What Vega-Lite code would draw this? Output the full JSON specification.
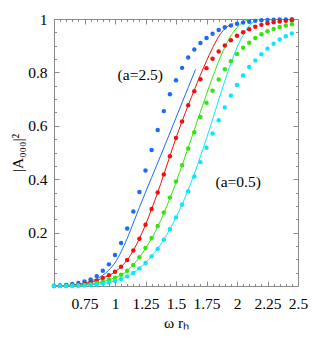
{
  "$schema": "https://vega.github.io/schema/vega-lite/v6.json",
  "autosize": "none",
  "width": 244,
  "height": 267,
  "padding": {"left": 54, "top": 19, "right": 14, "bottom": 57},
  "background": "white",
  "config": {
    "view": {"stroke": "#8a8a8a", "strokeWidth": 1},
    "axis": {
      "domain": false,
      "grid": false,
      "tickColor": "#8a8a8a",
      "tickWidth": 1,
      "labelFont": "'Liberation Serif', 'Times New Roman', serif",
      "labelFontSize": 15.5,
      "labelColor": "black",
      "titleFont": "'Liberation Serif', 'Times New Roman', serif",
      "titleFontSize": 15.5,
      "titleFontWeight": "normal",
      "titleColor": "black",
      "labelFlush": false,
      "labelOverlap": false
    },
    "text": {"font": "'Liberation Serif', 'Times New Roman', serif", "fontSize": 15.5}
  },
  "datasets": {
    "lines": [
      {"s": "a=2.5", "x": 0.5, "y": 0}, {"s": "a=2.5", "x": 0.55, "y": 0.001}, {"s": "a=2.5", "x": 0.6, "y": 0.002}, {"s": "a=2.5", "x": 0.65, "y": 0.004}, {"s": "a=2.5", "x": 0.7, "y": 0.007}, {"s": "a=2.5", "x": 0.75, "y": 0.011}, {"s": "a=2.5", "x": 0.8, "y": 0.018}, {"s": "a=2.5", "x": 0.85, "y": 0.027}, {"s": "a=2.5", "x": 0.9, "y": 0.04}, {"s": "a=2.5", "x": 0.95, "y": 0.06}, {"s": "a=2.5", "x": 1.0, "y": 0.087}, {"s": "a=2.5", "x": 1.05, "y": 0.128}, {"s": "a=2.5", "x": 1.1, "y": 0.178}, {"s": "a=2.5", "x": 1.15, "y": 0.236}, {"s": "a=2.5", "x": 1.2, "y": 0.294}, {"s": "a=2.5", "x": 1.25, "y": 0.351}, {"s": "a=2.5", "x": 1.3, "y": 0.406}, {"s": "a=2.5", "x": 1.35, "y": 0.461}, {"s": "a=2.5", "x": 1.4, "y": 0.517}, {"s": "a=2.5", "x": 1.45, "y": 0.573}, {"s": "a=2.5", "x": 1.5, "y": 0.63}, {"s": "a=2.5", "x": 1.55, "y": 0.687}, {"s": "a=2.5", "x": 1.6, "y": 0.743}, {"s": "a=2.5", "x": 1.66, "y": 0.811},
      {"s": "a=1.5", "x": 0.5, "y": 0}, {"s": "a=1.5", "x": 0.6, "y": 0.002}, {"s": "a=1.5", "x": 0.7, "y": 0.005}, {"s": "a=1.5", "x": 0.8, "y": 0.013}, {"s": "a=1.5", "x": 0.9, "y": 0.03}, {"s": "a=1.5", "x": 1.0, "y": 0.053}, {"s": "a=1.5", "x": 1.05, "y": 0.072}, {"s": "a=1.5", "x": 1.1, "y": 0.097}, {"s": "a=1.5", "x": 1.15, "y": 0.133}, {"s": "a=1.5", "x": 1.2, "y": 0.177}, {"s": "a=1.5", "x": 1.25, "y": 0.229}, {"s": "a=1.5", "x": 1.3, "y": 0.288}, {"s": "a=1.5", "x": 1.35, "y": 0.35}, {"s": "a=1.5", "x": 1.4, "y": 0.418}, {"s": "a=1.5", "x": 1.45, "y": 0.486}, {"s": "a=1.5", "x": 1.5, "y": 0.554}, {"s": "a=1.5", "x": 1.55, "y": 0.617}, {"s": "a=1.5", "x": 1.6, "y": 0.677}, {"s": "a=1.5", "x": 1.65, "y": 0.734}, {"s": "a=1.5", "x": 1.7, "y": 0.79}, {"s": "a=1.5", "x": 1.75, "y": 0.843}, {"s": "a=1.5", "x": 1.8, "y": 0.892}, {"s": "a=1.5", "x": 1.85, "y": 0.934}, {"s": "a=1.5", "x": 1.9, "y": 0.963}, {"s": "a=1.5", "x": 1.95, "y": 0.979}, {"s": "a=1.5", "x": 1.97, "y": 0.982},
      {"s": "a=1", "x": 0.5, "y": 0}, {"s": "a=1", "x": 0.6, "y": 0.001}, {"s": "a=1", "x": 0.7, "y": 0.003}, {"s": "a=1", "x": 0.8, "y": 0.007}, {"s": "a=1", "x": 0.9, "y": 0.016}, {"s": "a=1", "x": 1.0, "y": 0.031}, {"s": "a=1", "x": 1.1, "y": 0.057}, {"s": "a=1", "x": 1.15, "y": 0.079}, {"s": "a=1", "x": 1.2, "y": 0.107}, {"s": "a=1", "x": 1.25, "y": 0.14}, {"s": "a=1", "x": 1.3, "y": 0.178}, {"s": "a=1", "x": 1.35, "y": 0.222}, {"s": "a=1", "x": 1.4, "y": 0.272}, {"s": "a=1", "x": 1.45, "y": 0.328}, {"s": "a=1", "x": 1.5, "y": 0.388}, {"s": "a=1", "x": 1.55, "y": 0.452}, {"s": "a=1", "x": 1.6, "y": 0.518}, {"s": "a=1", "x": 1.65, "y": 0.585}, {"s": "a=1", "x": 1.7, "y": 0.652}, {"s": "a=1", "x": 1.75, "y": 0.718}, {"s": "a=1", "x": 1.8, "y": 0.782}, {"s": "a=1", "x": 1.85, "y": 0.842}, {"s": "a=1", "x": 1.9, "y": 0.894}, {"s": "a=1", "x": 1.95, "y": 0.937}, {"s": "a=1", "x": 2.0, "y": 0.968}, {"s": "a=1", "x": 2.05, "y": 0.988}, {"s": "a=1", "x": 2.1, "y": 0.998},
      {"s": "a=0.5", "x": 0.5, "y": 0}, {"s": "a=0.5", "x": 0.6, "y": 0}, {"s": "a=0.5", "x": 0.7, "y": 0.001}, {"s": "a=0.5", "x": 0.8, "y": 0.004}, {"s": "a=0.5", "x": 0.9, "y": 0.009}, {"s": "a=0.5", "x": 1.0, "y": 0.019}, {"s": "a=0.5", "x": 1.1, "y": 0.036}, {"s": "a=0.5", "x": 1.2, "y": 0.066}, {"s": "a=0.5", "x": 1.25, "y": 0.086}, {"s": "a=0.5", "x": 1.3, "y": 0.112}, {"s": "a=0.5", "x": 1.35, "y": 0.14}, {"s": "a=0.5", "x": 1.4, "y": 0.174}, {"s": "a=0.5", "x": 1.45, "y": 0.213}, {"s": "a=0.5", "x": 1.5, "y": 0.257}, {"s": "a=0.5", "x": 1.55, "y": 0.306}, {"s": "a=0.5", "x": 1.6, "y": 0.36}, {"s": "a=0.5", "x": 1.65, "y": 0.42}, {"s": "a=0.5", "x": 1.7, "y": 0.485}, {"s": "a=0.5", "x": 1.75, "y": 0.553}, {"s": "a=0.5", "x": 1.8, "y": 0.624}, {"s": "a=0.5", "x": 1.85, "y": 0.697}, {"s": "a=0.5", "x": 1.9, "y": 0.768}, {"s": "a=0.5", "x": 1.95, "y": 0.835}, {"s": "a=0.5", "x": 2.0, "y": 0.893}, {"s": "a=0.5", "x": 2.05, "y": 0.94}, {"s": "a=0.5", "x": 2.1, "y": 0.974}, {"s": "a=0.5", "x": 2.15, "y": 0.994}, {"s": "a=0.5", "x": 2.2, "y": 1.0}
    ],
    "dots": [
      {"s": "a=2.5", "x": 0.5, "y": 0.001}, {"s": "a=2.5", "x": 0.55, "y": 0.002}, {"s": "a=2.5", "x": 0.6, "y": 0.004}, {"s": "a=2.5", "x": 0.65, "y": 0.008}, {"s": "a=2.5", "x": 0.7, "y": 0.011}, {"s": "a=2.5", "x": 0.75, "y": 0.017}, {"s": "a=2.5", "x": 0.8, "y": 0.024}, {"s": "a=2.5", "x": 0.85, "y": 0.037}, {"s": "a=2.5", "x": 0.9, "y": 0.057}, {"s": "a=2.5", "x": 0.95, "y": 0.081}, {"s": "a=2.5", "x": 1.0, "y": 0.116}, {"s": "a=2.5", "x": 1.05, "y": 0.161}, {"s": "a=2.5", "x": 1.1, "y": 0.215}, {"s": "a=2.5", "x": 1.15, "y": 0.279}, {"s": "a=2.5", "x": 1.2, "y": 0.352}, {"s": "a=2.5", "x": 1.25, "y": 0.433}, {"s": "a=2.5", "x": 1.3, "y": 0.509}, {"s": "a=2.5", "x": 1.35, "y": 0.584}, {"s": "a=2.5", "x": 1.4, "y": 0.655}, {"s": "a=2.5", "x": 1.45, "y": 0.718}, {"s": "a=2.5", "x": 1.5, "y": 0.771}, {"s": "a=2.5", "x": 1.55, "y": 0.817}, {"s": "a=2.5", "x": 1.6, "y": 0.856}, {"s": "a=2.5", "x": 1.65, "y": 0.886}, {"s": "a=2.5", "x": 1.7, "y": 0.91}, {"s": "a=2.5", "x": 1.75, "y": 0.929}, {"s": "a=2.5", "x": 1.8, "y": 0.945}, {"s": "a=2.5", "x": 1.85, "y": 0.959}, {"s": "a=2.5", "x": 1.9, "y": 0.969}, {"s": "a=2.5", "x": 1.95, "y": 0.976}, {"s": "a=2.5", "x": 2.0, "y": 0.982}, {"s": "a=2.5", "x": 2.05, "y": 0.987}, {"s": "a=2.5", "x": 2.1, "y": 0.99}, {"s": "a=2.5", "x": 2.15, "y": 0.993}, {"s": "a=2.5", "x": 2.2, "y": 0.995}, {"s": "a=2.5", "x": 2.25, "y": 0.996}, {"s": "a=2.5", "x": 2.3, "y": 0.997}, {"s": "a=2.5", "x": 2.35, "y": 0.998}, {"s": "a=2.5", "x": 2.4, "y": 0.998}, {"s": "a=2.5", "x": 2.45, "y": 0.999},
      {"s": "a=1.5", "x": 0.5, "y": 0}, {"s": "a=1.5", "x": 0.55, "y": 0.001}, {"s": "a=1.5", "x": 0.6, "y": 0.002}, {"s": "a=1.5", "x": 0.65, "y": 0.003}, {"s": "a=1.5", "x": 0.7, "y": 0.005}, {"s": "a=1.5", "x": 0.75, "y": 0.008}, {"s": "a=1.5", "x": 0.8, "y": 0.013}, {"s": "a=1.5", "x": 0.85, "y": 0.02}, {"s": "a=1.5", "x": 0.9, "y": 0.03}, {"s": "a=1.5", "x": 0.95, "y": 0.04}, {"s": "a=1.5", "x": 1.0, "y": 0.053}, {"s": "a=1.5", "x": 1.05, "y": 0.072}, {"s": "a=1.5", "x": 1.1, "y": 0.097}, {"s": "a=1.5", "x": 1.15, "y": 0.133}, {"s": "a=1.5", "x": 1.2, "y": 0.177}, {"s": "a=1.5", "x": 1.25, "y": 0.229}, {"s": "a=1.5", "x": 1.3, "y": 0.288}, {"s": "a=1.5", "x": 1.35, "y": 0.35}, {"s": "a=1.5", "x": 1.4, "y": 0.418}, {"s": "a=1.5", "x": 1.45, "y": 0.486}, {"s": "a=1.5", "x": 1.5, "y": 0.554}, {"s": "a=1.5", "x": 1.55, "y": 0.616}, {"s": "a=1.5", "x": 1.6, "y": 0.677}, {"s": "a=1.5", "x": 1.65, "y": 0.729}, {"s": "a=1.5", "x": 1.7, "y": 0.774}, {"s": "a=1.5", "x": 1.75, "y": 0.816}, {"s": "a=1.5", "x": 1.8, "y": 0.851}, {"s": "a=1.5", "x": 1.85, "y": 0.878}, {"s": "a=1.5", "x": 1.9, "y": 0.901}, {"s": "a=1.5", "x": 1.95, "y": 0.92}, {"s": "a=1.5", "x": 2.0, "y": 0.937}, {"s": "a=1.5", "x": 2.05, "y": 0.95}, {"s": "a=1.5", "x": 2.1, "y": 0.962}, {"s": "a=1.5", "x": 2.15, "y": 0.971}, {"s": "a=1.5", "x": 2.2, "y": 0.978}, {"s": "a=1.5", "x": 2.25, "y": 0.984}, {"s": "a=1.5", "x": 2.3, "y": 0.988}, {"s": "a=1.5", "x": 2.35, "y": 0.991}, {"s": "a=1.5", "x": 2.4, "y": 0.993}, {"s": "a=1.5", "x": 2.45, "y": 0.995},
      {"s": "a=1", "x": 0.5, "y": 0}, {"s": "a=1", "x": 0.55, "y": 0}, {"s": "a=1", "x": 0.6, "y": 0.001}, {"s": "a=1", "x": 0.65, "y": 0.002}, {"s": "a=1", "x": 0.7, "y": 0.003}, {"s": "a=1", "x": 0.75, "y": 0.004}, {"s": "a=1", "x": 0.8, "y": 0.007}, {"s": "a=1", "x": 0.85, "y": 0.011}, {"s": "a=1", "x": 0.9, "y": 0.016}, {"s": "a=1", "x": 0.95, "y": 0.023}, {"s": "a=1", "x": 1.0, "y": 0.031}, {"s": "a=1", "x": 1.05, "y": 0.042}, {"s": "a=1", "x": 1.1, "y": 0.057}, {"s": "a=1", "x": 1.15, "y": 0.079}, {"s": "a=1", "x": 1.2, "y": 0.108}, {"s": "a=1", "x": 1.25, "y": 0.142}, {"s": "a=1", "x": 1.3, "y": 0.18}, {"s": "a=1", "x": 1.35, "y": 0.225}, {"s": "a=1", "x": 1.4, "y": 0.275}, {"s": "a=1", "x": 1.45, "y": 0.331}, {"s": "a=1", "x": 1.5, "y": 0.391}, {"s": "a=1", "x": 1.55, "y": 0.452}, {"s": "a=1", "x": 1.6, "y": 0.515}, {"s": "a=1", "x": 1.65, "y": 0.576}, {"s": "a=1", "x": 1.7, "y": 0.633}, {"s": "a=1", "x": 1.75, "y": 0.686}, {"s": "a=1", "x": 1.8, "y": 0.731}, {"s": "a=1", "x": 1.85, "y": 0.773}, {"s": "a=1", "x": 1.9, "y": 0.812}, {"s": "a=1", "x": 1.95, "y": 0.842}, {"s": "a=1", "x": 2.0, "y": 0.869}, {"s": "a=1", "x": 2.05, "y": 0.892}, {"s": "a=1", "x": 2.1, "y": 0.911}, {"s": "a=1", "x": 2.15, "y": 0.929}, {"s": "a=1", "x": 2.2, "y": 0.943}, {"s": "a=1", "x": 2.25, "y": 0.954}, {"s": "a=1", "x": 2.3, "y": 0.963}, {"s": "a=1", "x": 2.35, "y": 0.97}, {"s": "a=1", "x": 2.4, "y": 0.976}, {"s": "a=1", "x": 2.45, "y": 0.98},
      {"s": "a=0.5", "x": 0.5, "y": 0}, {"s": "a=0.5", "x": 0.55, "y": 0}, {"s": "a=0.5", "x": 0.6, "y": 0}, {"s": "a=0.5", "x": 0.65, "y": 0.001}, {"s": "a=0.5", "x": 0.7, "y": 0.001}, {"s": "a=0.5", "x": 0.75, "y": 0.002}, {"s": "a=0.5", "x": 0.8, "y": 0.004}, {"s": "a=0.5", "x": 0.85, "y": 0.006}, {"s": "a=0.5", "x": 0.9, "y": 0.009}, {"s": "a=0.5", "x": 0.95, "y": 0.013}, {"s": "a=0.5", "x": 1.0, "y": 0.019}, {"s": "a=0.5", "x": 1.05, "y": 0.026}, {"s": "a=0.5", "x": 1.1, "y": 0.036}, {"s": "a=0.5", "x": 1.15, "y": 0.049}, {"s": "a=0.5", "x": 1.2, "y": 0.066}, {"s": "a=0.5", "x": 1.25, "y": 0.086}, {"s": "a=0.5", "x": 1.3, "y": 0.111}, {"s": "a=0.5", "x": 1.35, "y": 0.139}, {"s": "a=0.5", "x": 1.4, "y": 0.173}, {"s": "a=0.5", "x": 1.45, "y": 0.213}, {"s": "a=0.5", "x": 1.5, "y": 0.257}, {"s": "a=0.5", "x": 1.55, "y": 0.305}, {"s": "a=0.5", "x": 1.6, "y": 0.355}, {"s": "a=0.5", "x": 1.65, "y": 0.41}, {"s": "a=0.5", "x": 1.7, "y": 0.464}, {"s": "a=0.5", "x": 1.75, "y": 0.518}, {"s": "a=0.5", "x": 1.8, "y": 0.571}, {"s": "a=0.5", "x": 1.85, "y": 0.621}, {"s": "a=0.5", "x": 1.9, "y": 0.669}, {"s": "a=0.5", "x": 1.95, "y": 0.713}, {"s": "a=0.5", "x": 2.0, "y": 0.753}, {"s": "a=0.5", "x": 2.05, "y": 0.788}, {"s": "a=0.5", "x": 2.1, "y": 0.82}, {"s": "a=0.5", "x": 2.15, "y": 0.845}, {"s": "a=0.5", "x": 2.2, "y": 0.868}, {"s": "a=0.5", "x": 2.25, "y": 0.889}, {"s": "a=0.5", "x": 2.3, "y": 0.907}, {"s": "a=0.5", "x": 2.35, "y": 0.923}, {"s": "a=0.5", "x": 2.4, "y": 0.935}, {"s": "a=0.5", "x": 2.45, "y": 0.946}
    ]
  },
  "resolve": {"axis": {"x": "independent", "y": "independent"}},
  "layer": [
    {
      "data": {"name": "lines"},
      "mark": {"type": "line", "strokeWidth": 1, "interpolate": "monotone", "clip": true},
      "encoding": {
        "x": {"field": "x", "type": "quantitative",
              "scale": {"domain": [0.5, 2.5], "nice": false, "zero": false},
              "axis": {"orient": "bottom", "values": [0.5, 0.75, 1, 1.25, 1.5, 1.75, 2, 2.25, 2.5], "tickSize": -5, "labelPadding": 15, "labelExpr": "datum.value > 0.6 ? '' + datum.value : ''", "title": "ω rₕ", "titlePadding": 4}},
        "y": {"field": "y", "type": "quantitative",
              "scale": {"domain": [0, 1], "nice": false},
              "axis": {"orient": "left", "values": [0, 0.2, 0.4, 0.6, 0.8, 1], "tickSize": -5, "labelPadding": 12, "labelExpr": "datum.value > 0.1 ? '' + datum.value : ''", "title": "|A₀₀₀|²", "titlePadding": 2}},
        "color": {"field": "s", "type": "nominal",
                  "scale": {"domain": ["a=2.5", "a=1.5", "a=1", "a=0.5"], "range": ["#1a6cf2", "#f01010", "#33e60a", "#0ae6ff"]},
                  "legend": null},
        "detail": {"field": "s"}
      }
    },
    {
      "data": {"name": "dots"},
      "mark": {"type": "circle", "size": 20, "opacity": 1},
      "encoding": {
        "x": {"field": "x", "type": "quantitative",
              "axis": {"orient": "bottom", "values": [0.55, 0.6, 0.65, 0.7, 0.8, 0.85, 0.9, 0.95, 1.05, 1.1, 1.15, 1.2, 1.3, 1.35, 1.4, 1.45, 1.55, 1.6, 1.65, 1.7, 1.8, 1.85, 1.9, 1.95, 2.05, 2.1, 2.15, 2.2, 2.3, 2.35, 2.4, 2.45], "tickSize": -2.5, "labels": false, "title": null}},
        "y": {"field": "y", "type": "quantitative",
              "axis": {"orient": "left", "values": [0.05, 0.1, 0.15, 0.25, 0.3, 0.35, 0.45, 0.5, 0.55, 0.65, 0.7, 0.75, 0.85, 0.9, 0.95], "tickSize": -2.5, "labels": false, "title": null}},
        "color": {"field": "s", "type": "nominal", "legend": null}
      }
    },
    {
      "data": {"values": [{"x": 1.207, "y": 0.792, "t": "(a=2.5)"}]},
      "mark": {"type": "text", "align": "center", "baseline": "middle", "color": "black"},
      "encoding": {
        "x": {"field": "x", "type": "quantitative",
              "axis": {"orient": "top", "values": [0.75, 1, 1.25, 1.5, 1.75, 2, 2.25], "tickSize": -5, "labels": false, "title": null}},
        "y": {"field": "y", "type": "quantitative",
              "axis": {"orient": "right", "values": [0.2, 0.4, 0.6, 0.8], "tickSize": -5, "labels": false, "title": null}},
        "text": {"field": "t"}
      }
    },
    {
      "data": {"values": [{"x": 2.01, "y": 0.391, "t": "(a=0.5)"}]},
      "mark": {"type": "text", "align": "center", "baseline": "middle", "color": "black"},
      "encoding": {
        "x": {"field": "x", "type": "quantitative",
              "axis": {"orient": "top", "values": [0.55, 0.6, 0.65, 0.7, 0.8, 0.85, 0.9, 0.95, 1.05, 1.1, 1.15, 1.2, 1.3, 1.35, 1.4, 1.45, 1.55, 1.6, 1.65, 1.7, 1.8, 1.85, 1.9, 1.95, 2.05, 2.1, 2.15, 2.2, 2.3, 2.35, 2.4, 2.45], "tickSize": -2.5, "labels": false, "title": null}},
        "y": {"field": "y", "type": "quantitative",
              "axis": {"orient": "right", "values": [0.05, 0.1, 0.15, 0.25, 0.3, 0.35, 0.45, 0.5, 0.55, 0.65, 0.7, 0.75, 0.85, 0.9, 0.95], "tickSize": -2.5, "labels": false, "title": null}},
        "text": {"field": "t"}
      }
    }
  ]
}
